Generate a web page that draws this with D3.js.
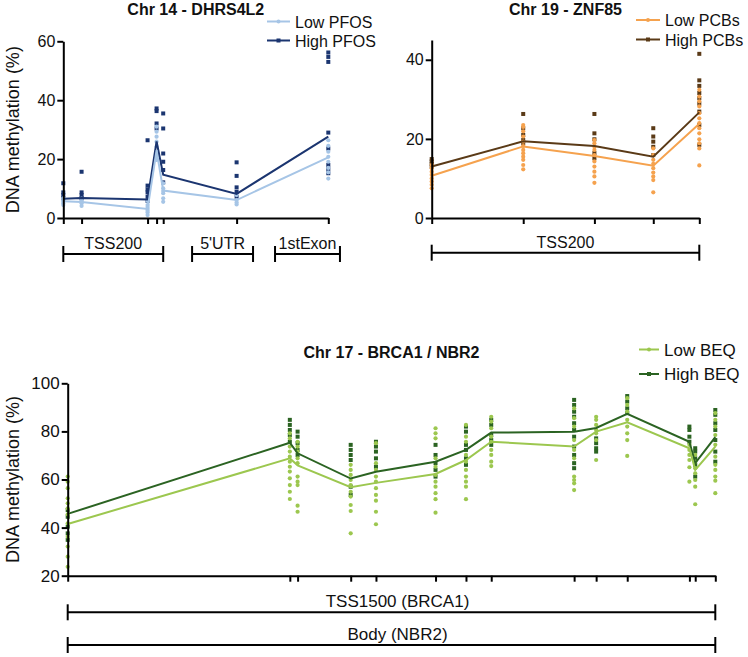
<!DOCTYPE html>
<html><head><meta charset="utf-8">
<script src="https://cdn.jsdelivr.net/npm/d3@7"></script>
<style>
html,body{margin:0;padding:0;background:#fff;}
svg{display:block;font-family:"Liberation Sans",Arial,sans-serif;}
</style></head>
<body><svg id="chart" width="748" height="657"></svg>
<script>
// ---------- DATA ----------
// Panel A: Chr 14 - DHRS4L2 (relative CpG position along region)
const pfosPositions = [0, 6.9, 31.8, 35.2, 37.7, 65.4, 100];
const pfosLowMean  = [5.7, 5.4, 3.1, 23.0, 9.3, 6.1, 20.6];
const pfosHighMean = [6.5, 6.8, 6.3, 26.0, 14.7, 8.2, 27.6];
const pfosLowPoints = [
  [6.7, 5.5, 4.4, 6.0, 5.0],
  [6.1, 5.0, 4.1, 5.6, 6.6],
  [5.8, 4.4, 3.1, 1.9, 1.0, 2.5, 3.7],
  [31.0, 29.3, 27.6, 25.9, 24.2, 22.5, 20.8, 19.7],
  [11.8, 10.1, 8.4, 6.7, 5.5, 9.2],
  [7.8, 6.1, 4.6, 5.3],
  [26.4, 24.5, 22.5, 20.8, 19.1, 13.4, 17.0, 15.5]
];
const pfosHighPoints = [
  [11.8, 8.7, 7.8, 6.7],
  [15.7, 8.7, 7.8, 6.7],
  [26.4, 11.0, 9.7, 8.7, 7.2, 5.8],
  [37.2, 36.3, 32.1, 30.4, 21.4],
  [35.5, 30.4, 21.9, 19.1, 16.3, 12.1],
  [18.9, 14.3, 10.4, 8.9, 7.2],
  [56.2, 54.7, 53.0, 29.0, 23.6, 18.0, 16.6, 15.2]
];
const pfosRegionNames = ["TSS200", "5'UTR", "1stExon"];
const pfosRegionStart = [0, 48.6, 79.9];
const pfosRegionEnd   = [37.7, 71.6, 104.4];
const pfosYTicks = [0, 20, 40, 60];
const pfosLegend = ["Low PFOS", "High PFOS"];

// Panel B: Chr 19 - ZNF85
const pcbPositions = [0, 34.2, 60.8, 82.8, 100];
const pcbLowMean  = [10.7, 18.1, 15.7, 13.2, 23.8];
const pcbHighMean = [13.0, 19.4, 18.2, 15.5, 26.7];
const pcbLowPoints = [
  [12.6, 11.7, 10.9, 10.0, 9.2, 8.4, 7.5, 13.4],
  [23.5, 23.0, 21.9, 20.6, 19.3, 18.2, 17.2, 16.4, 15.5, 14.7, 13.4, 12.3],
  [19.7, 18.9, 18.0, 17.2, 15.9, 14.3, 13.0, 11.7, 10.5, 8.9],
  [17.6, 15.9, 14.7, 13.7, 12.6, 11.5, 10.5, 9.6, 6.5],
  [32.4, 30.7, 29.5, 28.2, 26.5, 25.2, 24.0, 22.7, 21.4, 19.9, 18.9, 17.6, 13.3]
];
const pcbHighPoints = [
  [14.9, 14.3, 13.7, 13.0],
  [26.3, 22.7, 21.0, 19.7, 18.9],
  [26.3, 21.4, 19.9, 16.4, 15.1],
  [22.7, 20.6, 19.3, 18.0, 15.9],
  [41.5, 34.8, 33.4, 31.6, 30.3, 28.9, 26.9, 23.5, 18.5]
];
const pcbRegionNames = ["TSS200"];
const pcbRegionStart = [0];
const pcbRegionEnd   = [100];
const pcbYTicks = [0, 20, 40];
const pcbLegend = ["Low PCBs", "High PCBs"];

// Panel C: Chr 17 - BRCA1 / NBR2
const beqPositions = [0, 34.3, 35.5, 43.7, 47.6, 56.8, 61.5, 65.4, 78.2, 81.6, 86.4, 96.0, 96.9, 100];
const beqLowMean  = [41.5, 68.8, 65.9, 56.8, 58.6, 62.3, 68.1, 75.7, 73.7, 79.9, 83.8, 73.0, 64.0, 73.7];
const beqHighMean = [45.7, 75.3, 70.9, 60.4, 63.2, 67.4, 72.3, 79.5, 79.9, 81.4, 87.3, 75.7, 66.8, 77.6];
const beqLowPoints = [
  [61.2, 59.1, 56.4, 52.2, 50.1, 41.8, 36.2, 32.1, 27.9, 23.7, 45.5, 48.0],
  [79.2, 77.1, 73.7, 71.6, 69.5, 67.4, 65.3, 63.3, 60.5, 57.7, 54.9, 51.9],
  [75.7, 73.7, 71.6, 68.8, 66.8, 61.2, 59.1, 57.7, 49.1, 46.6],
  [66.1, 64.0, 61.9, 59.8, 57.7, 54.9, 52.9, 49.4, 46.9, 37.6],
  [75.1, 66.8, 64.0, 61.2, 59.1, 56.4, 53.6, 51.2, 46.6, 41.4],
  [81.3, 79.2, 77.1, 68.8, 65.3, 61.9, 59.1, 57.0, 54.3, 51.8, 46.2],
  [82.7, 77.8, 75.7, 70.2, 67.4, 64.0, 61.2, 59.1, 57.0, 51.8],
  [86.1, 84.1, 81.3, 77.8, 75.7, 72.3, 70.2, 67.4, 65.6],
  [89.6, 85.5, 82.0, 76.4, 72.3, 68.8, 61.2, 59.8, 58.4, 55.6],
  [86.1, 84.8, 82.7, 80.6, 79.2, 76.4, 68.1],
  [93.8, 91.0, 88.2, 84.8, 82.0, 79.2, 76.4, 69.8],
  [74.4, 72.3, 70.2, 68.1, 65.1, 59.1],
  [70.2, 67.4, 64.7, 62.6, 59.8, 57.0, 49.7],
  [87.6, 84.8, 82.0, 78.5, 74.4, 69.5, 66.1, 64.0, 61.2, 59.5, 54.3]
];
const beqHighPoints = [
  [47.3, 44.5, 40.4, 37.6, 34.9],
  [84.8, 82.7, 80.6, 78.5, 75.7],
  [79.9, 77.8, 75.1, 72.3, 70.2],
  [74.4, 72.3, 70.2, 68.1, 57.0, 53.6],
  [75.7, 73.7, 71.6, 68.8, 65.3],
  [74.4, 70.2, 66.8, 64.0, 61.2],
  [82.0, 79.9, 74.4, 72.3, 68.8, 66.1],
  [84.8, 82.7, 78.5, 76.4, 74.4],
  [93.1, 91.0, 88.2, 86.1, 83.4, 80.6, 77.8, 73.7, 70.2, 66.8, 64.7],
  [77.1, 75.1, 73.0, 71.6],
  [94.7, 92.4, 89.6, 87.6],
  [82.0, 80.6, 77.8, 75.7],
  [73.0, 71.6, 68.8, 66.1, 61.2],
  [88.9, 86.9, 83.4, 80.6, 76.4, 71.6, 67.4]
];
const beqRegionNames = ["TSS1500 (BRCA1)", "Body (NBR2)"];
const beqRegionStart = [0, 0];
const beqRegionEnd   = [100, 100];
const beqYTicks = [20, 40, 60, 80, 100];
const beqLegend = ["Low BEQ", "High BEQ"];

// ---------- DRAWING ----------
const svg = d3.select("#chart");

function drawPanel(cfg) {
  const g = svg.append("g");
  const x = d3.scaleLinear().domain([0, 100]).range([cfg.x0, cfg.x1]);
  const y = d3.scaleLinear().domain(cfg.yDomain).range([cfg.yBottom, cfg.yTop]);

  // scatter: high squares first, then low circles
  const sq = cfg.sq;
  cfg.highPoints.forEach((vals, i) => {
    g.selectAll(null).data(vals).enter().append("rect")
      .attr("x", d => x(cfg.positions[i]) - sq / 2)
      .attr("y", d => y(d) - sq / 2)
      .attr("width", sq).attr("height", sq)
      .attr("fill", cfg.highColor);
  });
  cfg.lowPoints.forEach((vals, i) => {
    g.selectAll(null).data(vals).enter().append("circle")
      .attr("cx", d => x(cfg.positions[i]))
      .attr("cy", d => y(d))
      .attr("r", cfg.r)
      .attr("fill", cfg.lowColor);
  });

  const line = d3.line().x((d, i) => x(cfg.positions[i])).y(d => y(d));
  g.append("path").datum(cfg.highMean).attr("d", line)
    .attr("fill", "none").attr("stroke", cfg.highColor).attr("stroke-width", 2);
  g.append("path").datum(cfg.lowMean).attr("d", line)
    .attr("fill", "none").attr("stroke", cfg.lowColor).attr("stroke-width", 2);

  // axes
  const yAxis = d3.axisLeft(y).tickValues(cfg.yTicks).tickSize(6).tickSizeOuter(0).tickPadding(2);
  const ya = g.append("g").attr("transform", `translate(${cfg.x0},0)`).call(yAxis);
  ya.select(".domain").attr("stroke", "#000").attr("stroke-width", 2);
  ya.selectAll(".tick line").attr("stroke", "#000").attr("stroke-width", 2);
  ya.selectAll(".tick text").attr("font-size", cfg.tickFont + "px")
    .attr("fill", "#111").attr("font-family", "Liberation Sans, Arial, sans-serif");

  const xAxis = d3.axisBottom(x).tickValues(cfg.positions).tickFormat("").tickSize(6).tickSizeOuter(0);
  const xa = g.append("g").attr("transform", `translate(0,${cfg.yBottom})`).call(xAxis);
  xa.select(".domain").attr("stroke", "#000").attr("stroke-width", 2);
  xa.selectAll(".tick line").attr("stroke", "#000").attr("stroke-width", 2);

  // region brackets
  cfg.regionNames.forEach((name, i) => {
    const by = cfg.bracketY[i];
    const xs = x(cfg.regionStart[i]), xe = x(cfg.regionEnd[i]);
    g.append("line").attr("x1", xs).attr("x2", xe).attr("y1", by).attr("y2", by)
      .attr("stroke", "#000").attr("stroke-width", 2);
    [xs, xe].forEach(px => g.append("line").attr("x1", px).attr("x2", px)
      .attr("y1", by - 8).attr("y2", by + 8).attr("stroke", "#000").attr("stroke-width", 2));
    g.append("text").attr("x", (xs + xe) / 2 + (cfg.labelShift || 0)).attr("y", by - 5)
      .attr("text-anchor", "middle").attr("font-size", cfg.tickFont + "px")
      .attr("fill", "#111").text(name);
  });

  // title
  g.append("text").attr("x", (cfg.x0 + cfg.x1) / 2).attr("y", cfg.titleY)
    .attr("text-anchor", "middle").attr("font-size", "16px").attr("font-weight", "bold")
    .attr("fill", "#111").text(cfg.title);

  // y title
  if (cfg.yTitle) {
    g.append("text")
      .attr("transform", `translate(${cfg.yTitleX},${(cfg.yTop + cfg.yBottom) / 2}) rotate(-90)`)
      .attr("text-anchor", "middle").attr("font-size", "18px").attr("fill", "#111")
      .text(cfg.yTitle);
  }

  // legend
  const colors = [cfg.lowColor, cfg.highColor];
  cfg.legend.forEach((lab, i) => {
    const ly = cfg.legY[i];
    g.append("line").attr("x1", cfg.legX).attr("x2", cfg.legX + cfg.legLen)
      .attr("y1", ly).attr("y2", ly).attr("stroke", colors[i]).attr("stroke-width", 2);
    const mx = cfg.legX + cfg.legLen / 2;
    if (i === 0) {
      g.append("circle").attr("cx", mx).attr("cy", ly).attr("r", 2).attr("fill", colors[i]);
    } else {
      g.append("rect").attr("x", mx - 2).attr("y", ly - 2).attr("width", 4).attr("height", 4).attr("fill", colors[i]);
    }
    g.append("text").attr("x", cfg.legX + cfg.legLen + 5).attr("y", ly + 6)
      .attr("font-size", cfg.legFont + "px").attr("fill", "#111").text(lab);
  });
}

drawPanel({
  positions: pfosPositions, lowMean: pfosLowMean, highMean: pfosHighMean,
  lowPoints: pfosLowPoints, highPoints: pfosHighPoints,
  regionNames: pfosRegionNames, regionStart: pfosRegionStart, regionEnd: pfosRegionEnd,
  bracketY: [254, 254, 254],
  yTicks: pfosYTicks, yDomain: [0, 60], legend: pfosLegend,
  x0: 63.3, x1: 328.3, yBottom: 218, yTop: 41.3,
  lowColor: "#a6c5e6", highColor: "#1b3570", sq: 4, r: 2.1,
  tickFont: 16, legFont: 16, title: "Chr 14 - DHRS4L2", titleY: 15,
  yTitle: "DNA methylation (%)", yTitleX: 19,
  legX: 267, legLen: 23, legY: [21.5, 40.5]
});

drawPanel({
  positions: pcbPositions, lowMean: pcbLowMean, highMean: pcbHighMean,
  lowPoints: pcbLowPoints, highPoints: pcbHighPoints,
  regionNames: pcbRegionNames, regionStart: pcbRegionStart, regionEnd: pcbRegionEnd,
  bracketY: [252.7],
  yTicks: pcbYTicks, yDomain: [0, 45], legend: pcbLegend,
  x0: 431.7, x1: 699.3, yBottom: 218, yTop: 40,
  lowColor: "#f5a24e", highColor: "#5a3a17", sq: 4, r: 2.1,
  tickFont: 16, legFont: 16, title: "Chr 19 - ZNF85", titleY: 15,
  yTitle: null,
  legX: 636, legLen: 24, legY: [20, 39.5]
});

drawPanel({
  positions: beqPositions, lowMean: beqLowMean, highMean: beqHighMean,
  lowPoints: beqLowPoints, highPoints: beqHighPoints,
  regionNames: beqRegionNames, regionStart: beqRegionStart, regionEnd: beqRegionEnd,
  bracketY: [612.3, 645], labelShift: 6,
  yTicks: beqYTicks, yDomain: [20, 100], legend: beqLegend,
  x0: 67.7, x1: 715.3, yBottom: 575.7, yTop: 383.3,
  lowColor: "#9cc74f", highColor: "#2b6322", sq: 4, r: 2.1,
  tickFont: 17, legFont: 17, title: "Chr 17 - BRCA1 / NBR2", titleY: 358,
  yTitle: "DNA methylation (%)", yTitleX: 19,
  legX: 639, legLen: 20, legY: [349.5, 374]
});
</script>
</body></html>
